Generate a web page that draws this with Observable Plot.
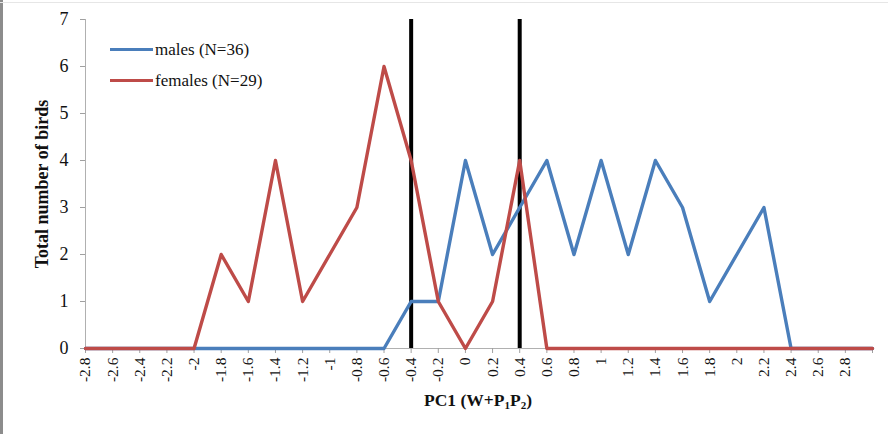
<!DOCTYPE html>
<html>
<head>
<meta charset="utf-8">
<script src="https://cdn.jsdelivr.net/npm/d3@7"></script>
<script src="https://cdn.jsdelivr.net/npm/@observablehq/plot@0.6"></script>
<style>
  body { margin: 0; background: #fff; }
  #wrap { position: relative; width: 888px; height: 434px; overflow: hidden; font-family: "Liberation Serif", "Times New Roman", serif; }
  #wrap svg { position: absolute; left: 0; top: 0; }
  .bl { position: absolute; left: 0; top: 0; width: 3px; height: 434px; background: #8c8c8c; }
  .bt { position: absolute; left: 0; top: 2px; width: 888px; height: 1px; background: #e6e6e6; }
  .legend { position: absolute; left: 110px; top: 34px; font-size: 17px; color: #111; }
  .legend div { display: flex; align-items: center; height: 31px; }
  .legend span.sw { display: inline-block; width: 43px; height: 3px; margin-right: 2px; }
  .xtitle { position: absolute; left: 0; width: 956px; top: 390px; text-align: center; font-weight: bold; font-size: 17.5px; color: #111; }
  .xtitle sub { font-size: 11px; vertical-align: -3px; line-height: 0; }
</style>
</head>
<body>
<div id="wrap"></div>
<script>
// ---- data ----
const xValues = [-2.8,-2.6,-2.4,-2.2,-2.0,-1.8,-1.6,-1.4,-1.2,-1.0,-0.8,-0.6,-0.4,-0.2,0,0.2,0.4,0.6,0.8,1.0,1.2,1.4,1.6,1.8,2.0,2.2,2.4,2.6,2.8,3.0];
const tickLabels = ["-2.8","-2.6","-2.4","-2.2","-2","-1.8","-1.6","-1.4","-1.2","-1","-0.8","-0.6","-0.4","-0.2","0","0.2","0.4","0.6","0.8","1","1.2","1.4","1.6","1.8","2","2.2","2.4","2.6","2.8",""];
const males   = [0,0,0,0,0,0,0,0,0,0,0,0,1,1,4,2,3,4,2,4,2,4,3,1,2,3,0,0,0,0];
const females = [0,0,0,0,0,2,1,4,1,2,3,6,4,1,0,1,4,0,0,0,0,0,0,0,0,0,0,0,0,0];
const thresholds = [-0.4, 0.4];
const yTicks = [0,1,2,3,4,5,6,7];
const seriesNames = ["males (N=36)", "females (N=29)"];
const seriesColors = ["#4A7EBB", "#BE4B48"];
const yTitle = "Total number of birds";

const maleRows = xValues.map((x, i) => ({x, y: males[i]}));
const femaleRows = xValues.map((x, i) => ({x, y: females[i]}));
const labelOf = new Map(xValues.map((x, i) => [x.toFixed(1), tickLabels[i]]));

const chart = Plot.plot({
  width: 888,
  height: 434,
  marginLeft: 85,
  marginRight: 16,
  marginTop: 19,
  marginBottom: 86,
  style: { fontFamily: "Liberation Serif, Times New Roman, serif", fontSize: "15px", color: "#111", background: "transparent" },
  x: { type: "linear", domain: [xValues[0], xValues[xValues.length - 1]] },
  y: { domain: [0, 7] },
  marks: [
    Plot.ruleY([0], { stroke: "#b0b0b0", strokeWidth: 1 }),
    Plot.ruleX([xValues[0]], { stroke: "#b0b0b0", strokeWidth: 1 }),
    Plot.axisX({ ticks: xValues, tickFormat: d => labelOf.get(d.toFixed(1)), tickRotate: -90, tickSize: 5, tickPadding: 4, stroke: "#a0a0a0", label: null, fontSize: 15.5 }),
    Plot.axisY({ ticks: yTicks, tickFormat: d3.format("d"), tickSize: 5, tickPadding: 12, stroke: "#a0a0a0", label: null, fontSize: 18 }),
    Plot.ruleX(thresholds, { y1: 0, y2: 7, stroke: "#000", strokeWidth: 4 }),
    Plot.line(maleRows, { x: "x", y: "y", stroke: seriesColors[0], strokeWidth: 3.4 }),
    Plot.line(femaleRows, { x: "x", y: "y", stroke: seriesColors[1], strokeWidth: 3.4 }),
    Plot.text([yTitle], { frameAnchor: "left", textAnchor: "middle", dx: -43, rotate: -90, fontWeight: "bold", fontSize: 18, fill: "#111" })
  ]
});

const wrap = document.getElementById("wrap");
wrap.appendChild(chart);

const bl = document.createElement("div"); bl.className = "bl"; wrap.appendChild(bl);
const bt = document.createElement("div"); bt.className = "bt"; wrap.appendChild(bt);

const legend = document.createElement("div");
legend.className = "legend";
seriesNames.forEach((n, i) => {
  const row = document.createElement("div");
  const sw = document.createElement("span");
  sw.className = "sw"; sw.style.background = seriesColors[i];
  row.appendChild(sw);
  row.appendChild(document.createTextNode(n));
  legend.appendChild(row);
});
wrap.appendChild(legend);

const xt = document.createElement("div");
xt.className = "xtitle";
xt.innerHTML = "PC1 (W+P<sub>1</sub>P<sub>2</sub>)";
wrap.appendChild(xt);
</script>
</body>
</html>
